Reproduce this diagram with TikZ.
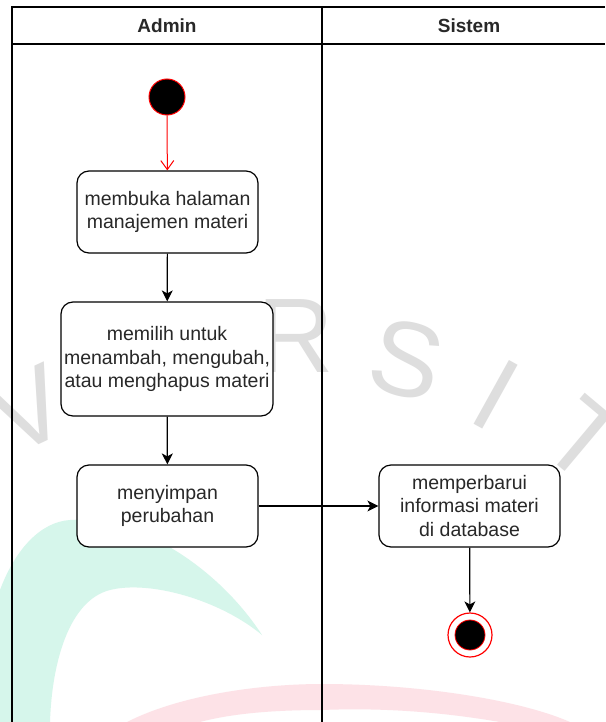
\documentclass[tikz,border=0pt]{standalone}
\usepackage{fontspec}
\setmainfont{Liberation Sans}
\usetikzlibrary{arrows.meta}

\definecolor{mint}{RGB}{214,246,235}
\definecolor{blush}{RGB}{253,226,231}
\definecolor{wmgray}{RGB}{222,222,222}
\definecolor{ink}{RGB}{40,40,40}

\tikzset{
  lane/.style={line width=1.1pt, draw=black},
  lanehead/.style={font=\fontsize{19}{22}\selectfont\bfseries, text=ink, inner sep=0pt},
  actbox/.style={draw=black, fill=white, line width=1.2pt, rounded corners=12pt,
    align=center, inner sep=0pt, text=ink,
    font=\fontsize{19.5}{23.3}\selectfont},
  startnode/.style={circle, draw=red, fill=black, line width=1pt,
    minimum size=36pt, inner sep=0pt},
  endnode/.style={circle, draw=red, fill=white, line width=1.2pt,
    minimum size=44pt, inner sep=0pt},
  flow/.style={line width=1.2pt, -{Stealth[length=11pt, width=11pt, inset=3pt]}},
  startflow/.style={draw=red, line width=1pt, -{Straight Barb[length=9pt, width=13pt]}},
  wmletter/.style={text=wmgray, inner sep=0pt, font=\fontsize{106}{106}\selectfont}
}

\begin{document}
\begin{tikzpicture}[x=1pt, y=-1pt]
\useasboundingbox (0,0) rectangle (605,722);
\fill[white] (0,0) rectangle (605,722);

% faint logo in the background
\fill[mint] (0,722) -- (0,590) .. controls (15,550) and (40,522) .. (70,520)
  .. controls (140,515) and (220,570) .. (262,635)
  .. controls (220,600) and (150,580) .. (110,590)
  .. controls (70,600) and (52,660) .. (50,722) -- cycle;
\fill[blush] (127,722) .. controls (180,695) and (260,684) .. (322,684)
  .. controls (420,684) and (520,700) .. (570,722) -- (500,722)
  .. controls (430,710) and (370,708) .. (322,710)
  .. controls (270,710) and (230,714) .. (200,722) -- cycle;
\node[wmletter, rotate=25]  (wmV) at (28,410) {V};
\node[wmletter]             (wmR) at (296,336) {R};
\node[wmletter, rotate=-14] (wmS) at (407,360) {S};
\node[wmletter, rotate=-29] (wmI) at (496,395) {I};
\node[wmletter, rotate=-40] (wmT) at (585,440) {T};

% swimlanes
\draw[lane] (12,722) -- (12,7) -- (605,7);
\draw[lane] (12,44) -- (605,44);
\draw[lane] (322,7) -- (322,722);
\node[lanehead] (hadmin)  at (167,26) {Admin};
\node[lanehead] (hsistem) at (469,26) {Sistem};

% activities
\node[startnode] (start) at (167,97) {};
\node[actbox, minimum width=181pt, minimum height=82pt] (a1) at (167.5,212)
  {membuka halaman\\manajemen materi};
\node[actbox, minimum width=212pt, minimum height=114pt] (a2) at (167,359)
  {memilih untuk\\menambah, mengubah,\\atau menghapus materi};
\node[actbox, minimum width=181pt, minimum height=82pt] (a3) at (167.5,506)
  {menyimpan\\perubahan};
\node[actbox, minimum width=181pt, minimum height=82pt] (a4) at (469.5,506)
  {memperbarui\\informasi materi\\di database};
\node[endnode] (stop) at (470,635) {};
\fill[black, draw=red, line width=0.8pt] (stop.center) circle (15pt);

% control flow
\draw[startflow] (start) -- (a1);
\draw[flow] (a1) -- (a2);
\draw[flow] (a2) -- (a3);
\draw[flow] (a3) -- (a4);
\draw[flow] (a4) -- (stop);
\end{tikzpicture}
\end{document}
